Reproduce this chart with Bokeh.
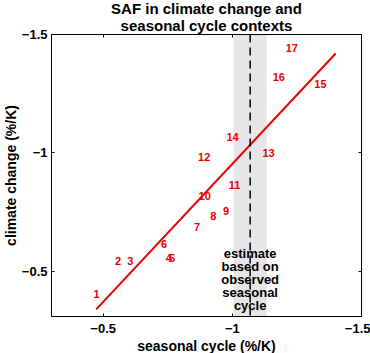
from bokeh.plotting import figure
from bokeh.models import Range1d, FixedTicker, LinearAxis, BoxAnnotation, Span, ColumnDataSource, Title
from bokeh.core.properties import value
from bokeh.embed import file_html
from bokeh.resources import INLINE

# ---- data ----
model_ids = [str(i) for i in range(1, 18)]
seasonal_saf = [-0.474, -0.558, -0.605, -0.754, -0.767, -0.736, -0.863, -0.926, -0.976,
                -0.893, -1.009, -0.891, -1.140, -1.001, -1.341, -1.180, -1.230]
climate_saf = [-0.404, -0.544, -0.544, -0.555, -0.555, -0.615, -0.686, -0.736, -0.756,
               -0.817, -0.867, -0.985, -0.998, -1.066, -1.291, -1.320, -1.441]
fit_x = [-0.473, -1.400]
fit_y = [-0.340, -1.420]
obs_estimate = -1.069
obs_low, obs_high = -1.005, -1.133
ticks = [-0.5, -1.0, -1.5]
tick_labels = ["\u22120.5", "\u22121", "\u22121.5"]
title_lines = ["SAF in climate change and", "seasonal cycle contexts"]
x_title = "seasonal cycle (%/K)"
y_title = "climate change (%/K)"
note = "estimate\nbased on\nobserved\nseasonal\ncycle"
note_y = -0.467

FONT = "Liberation Sans"
RED = "#e60000"

p = figure(width=370, height=353, output_backend="svg", toolbar_location=None,
           x_range=Range1d(-0.3, -1.5), y_range=Range1d(-0.31, -1.5),
           min_border_left=49, min_border_right=9, min_border_top=34, min_border_bottom=37)

p.title.visible = False
p.grid.visible = False
p.outline_line_color = "black"
p.outline_line_width = 1
p.outline_line_alpha = 1


def style_axis(ax, show_labels=True, standoff=5):
    ax.ticker = FixedTicker(ticks=ticks)
    ax.major_label_overrides = {t: l for t, l in zip(ticks, tick_labels)}
    ax.minor_tick_line_color = None
    ax.major_tick_in = 3
    ax.major_tick_out = 0
    ax.axis_line_color = "black"
    ax.major_label_text_font = FONT
    ax.major_label_text_font_style = "bold"
    ax.major_label_text_color = "black"
    if show_labels:
        ax.major_label_text_font_size = "13px"
        ax.major_label_standoff = standoff
    else:
        ax.major_label_text_font_size = "0px"
        ax.major_label_standoff = 0
        ax.major_label_text_alpha = 0


style_axis(p.xaxis[0], standoff=7)
style_axis(p.yaxis[0], standoff=4)
top_ax = LinearAxis()
right_ax = LinearAxis()
style_axis(top_ax, False)
style_axis(right_ax, False)
p.add_layout(top_ax, "above")
p.add_layout(right_ax, "right")


def mk_title(text, size, offset=0, standoff=0):
    return Title(text=text, align="center", text_font=FONT, text_font_size=size,
                 text_font_style="bold", text_color="black", offset=offset, standoff=standoff)


p.add_layout(mk_title(title_lines[1], "15px", standoff=2), "above")
p.add_layout(mk_title(title_lines[0], "15px", standoff=-6), "above")
p.add_layout(mk_title(x_title, "14px", offset=4), "below")
p.add_layout(mk_title(y_title, "14px", offset=8), "left")

p.add_layout(BoxAnnotation(left=obs_low, right=obs_high, fill_color="#e6e6e6", fill_alpha=1,
                           line_color=None, level="underlay"))
p.add_layout(Span(location=obs_estimate, dimension="height", line_color="black",
                  line_width=1.5, line_dash="8 5"))

p.line(fit_x, fit_y, line_color=RED, line_width=2)

src = ColumnDataSource(dict(x=seasonal_saf, y=climate_saf, t=model_ids))
p.text(x="x", y="y", text="t", source=src, text_color=RED, text_font=value(FONT),
       text_font_size="11px", text_font_style="bold", text_align="center", text_baseline="middle")

p.text(x=[obs_estimate], y=[note_y], text=[note], text_color="black", text_font=value(FONT),
       text_font_size="13px", text_font_style="bold", text_align="center", text_baseline="middle",
       text_line_height=0.87)

open("out.html", "w").write(file_html(p, INLINE))
